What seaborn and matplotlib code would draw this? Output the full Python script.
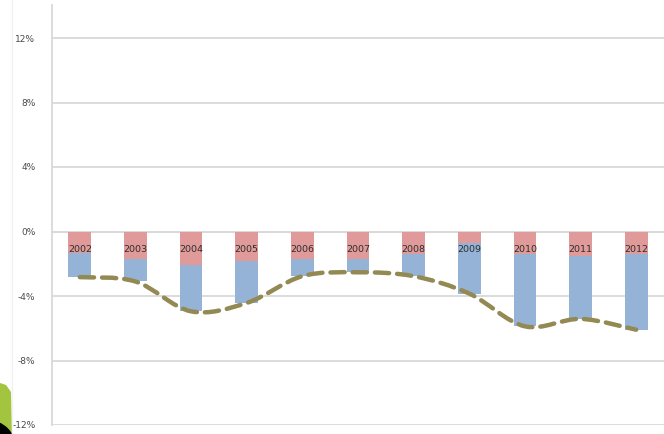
import numpy as np
import pandas as pd
import matplotlib
matplotlib.use("Agg")
import matplotlib.pyplot as plt
from matplotlib.path import Path
from matplotlib.patches import PathPatch, Polygon, Ellipse
from matplotlib.lines import Line2D
import seaborn as sns

# Balance components, % of GDP
years = ["2002", "2003", "2004", "2005", "2006", "2007",
         "2008", "2009", "2010", "2011", "2012"]
upper_part = [-1.32, -1.70, -2.09, -1.86, -1.68, -1.70, -1.39, -0.70, -1.39, -1.53, -1.39]
lower_part = [-1.51, -1.40, -2.86, -2.57, -1.09, -0.83, -1.38, -3.15, -4.49, -3.89, -4.70]
y_ticks = [-12, -8, -4, 0, 4, 8, 12]

total = [u + l for u, l in zip(upper_part, lower_part)]
df = pd.DataFrame({"year": years, "upper": upper_part, "total": total})

sns.set_style("white")
plt.rcParams["font.family"] = ["DejaVu Sans"]

W, H = 664, 434
fig = plt.figure(figsize=(W / 100, H / 100), dpi=100)
fig.patch.set_facecolor("white")

ax = fig.add_axes([52 / W, (H - 425) / H, (W - 52) / W, (425 - 5) / H])

grid_c = "#d9d9d9"
for v in y_ticks:
    ax.axhline(v, color=grid_c, lw=1.3, zorder=0)

# full bar (blue) then upper segment (red) over it
sns.barplot(data=df, x="year", y="total", color="#95b3d7", saturation=1,
            width=0.41, ax=ax, zorder=2, linewidth=0, edgecolor="none")
sns.barplot(data=df, x="year", y="upper", color="#e09a99", saturation=1,
            width=0.41, ax=ax, zorder=3, linewidth=0, edgecolor="none")

# smoothed dashed line through the totals
xs = np.arange(len(total), dtype=float)
pts = np.column_stack([xs, total])
verts = [tuple(pts[0])]
codes = [Path.MOVETO]
n = len(pts)
for i in range(n - 1):
    p0 = pts[i - 1] if i > 0 else pts[i]
    p1 = pts[i]
    p2 = pts[i + 1]
    p3 = pts[i + 2] if i + 2 < n else pts[i + 1]
    c1 = p1 + (p2 - p0) / 6.0
    c2 = p2 - (p3 - p1) / 6.0
    verts += [tuple(c1), tuple(c2), tuple(p2)]
    codes += [Path.CURVE4] * 3
curve = PathPatch(Path(verts, codes), facecolor="none", edgecolor="#938953",
                  lw=3.2, linestyle=(0, (3.2, 1.8)), capstyle="round", zorder=4)
ax.add_patch(curve)

ax.set_xlim(-0.5, 10.43)
ax.set_ylim(-12, 12 + 33 / 16.125)
ax.set_yticks(y_ticks)
ax.set_yticklabels([f"{v}%" for v in y_ticks])
ax.set_xlabel("")
ax.set_ylabel("")

for s in ["top", "right"]:
    ax.spines[s].set_visible(False)
ax.spines["left"].set_color(grid_c)
ax.spines["left"].set_linewidth(1.3)
ax.spines["bottom"].set_position(("data", 0))
ax.spines["bottom"].set_color(grid_c)
ax.spines["bottom"].set_linewidth(1.3)
ax.spines["bottom"].set_zorder(1)

ax.tick_params(axis="y", length=0, pad=12, labelsize=6.5, labelcolor="#4a4a4a")
ax.set_xticks(np.arange(len(years)))
ax.set_xticklabels(years)
ax.tick_params(axis="x", which="major", length=0, pad=10, labelsize=6.8,
               labelcolor="#2e2e2e")
ax.set_xticks(np.arange(len(years)) + 0.5, minor=True)
ax.tick_params(axis="x", which="minor", length=3, color=grid_c, direction="out")
ax.xaxis.set_zorder(5)

# slide decoration at the lower-left corner
fig.add_artist(Line2D([12 / W, 12 / W], [0, 1], color="#f2f2f2", lw=1,
                      transform=fig.transFigure))
green = Polygon([(0, 0), (0, (H - 383) / H), (6 / W, (H - 385) / H),
                 (11 / W, (H - 392) / H), (12 / W, 0)],
                closed=True, facecolor="#a3c43e", edgecolor="none",
                transform=fig.transFigure)
fig.add_artist(green)
fig.add_artist(Ellipse((-12 / W, -14 / H), 2 * 28 / W, 2 * 28 / H,
                       facecolor="black", edgecolor="none",
                       transform=fig.transFigure))
fig.savefig("out.png", dpi=100, facecolor="white")
